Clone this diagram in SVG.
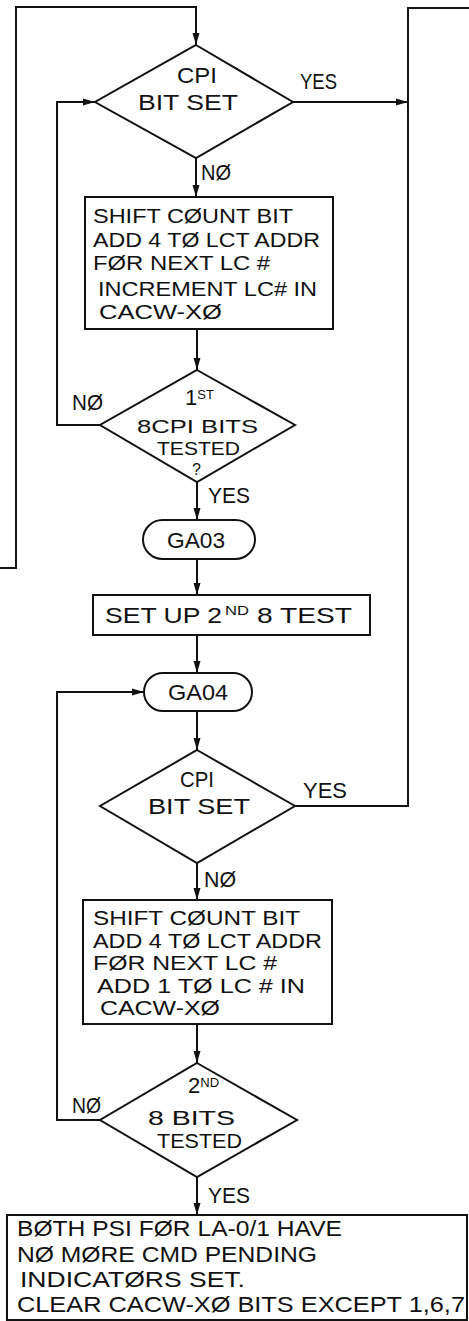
<svg xmlns="http://www.w3.org/2000/svg" width="469" height="1321" viewBox="0 0 469 1321">
<defs>
<marker id="arr" markerUnits="userSpaceOnUse" markerWidth="12" markerHeight="8" refX="12" refY="4" orient="auto">
<path d="M0,0.5 L12,4 L0,7.5 z" fill="#111"/>
</marker>
<style>
.ln{fill:none;stroke:#111;stroke-width:2}
.shp{fill:#fff;stroke:#111;stroke-width:2}
text{font-family:"Liberation Sans",Arial,sans-serif;font-size:22px;fill:#111}
.m{font-size:20px}
.s{font-size:19px}
.sup{font-size:13px}
</style>
</defs>
<rect width="469" height="1321" fill="#fff"/>
<g id="connectors">
<path class="ln" d="M0,568 H16 V7 H196 V45" marker-end="url(#arr)"/>
<path class="ln" d="M293,102 H408" marker-end="url(#arr)"/>
<path class="ln" d="M295,806 H408 V8 H469"/>
<path class="ln" d="M196,158 V197" marker-end="url(#arr)"/>
<path class="ln" d="M197,329 V370" marker-end="url(#arr)"/>
<path class="ln" d="M100,425 H57 V102 H95" marker-end="url(#arr)"/>
<path class="ln" d="M197,482 V520" marker-end="url(#arr)"/>
<path class="ln" d="M197,559 V595" marker-end="url(#arr)"/>
<path class="ln" d="M197,635 V673" marker-end="url(#arr)"/>
<path class="ln" d="M197,711 V750" marker-end="url(#arr)"/>
<path class="ln" d="M197,863 V900" marker-end="url(#arr)"/>
<path class="ln" d="M197,1024 V1063" marker-end="url(#arr)"/>
<path class="ln" d="M100,1120 H57 V692 H144" marker-end="url(#arr)"/>
<path class="ln" d="M197,1177 V1215" marker-end="url(#arr)"/>
<text x="300" y="89" textLength="37" lengthAdjust="spacingAndGlyphs">YES</text>
<text x="201" y="180" textLength="30" lengthAdjust="spacingAndGlyphs">NØ</text>
<text x="72" y="410" textLength="31" lengthAdjust="spacingAndGlyphs">NØ</text>
<text x="208" y="503" textLength="42" lengthAdjust="spacingAndGlyphs">YES</text>
<text x="303" y="798" textLength="44" lengthAdjust="spacingAndGlyphs">YES</text>
<text x="204" y="887" textLength="32" lengthAdjust="spacingAndGlyphs">NØ</text>
<text x="72" y="1113" textLength="29" lengthAdjust="spacingAndGlyphs">NØ</text>
<text x="208" y="1203" textLength="42" lengthAdjust="spacingAndGlyphs">YES</text>
</g>
<g id="d1">
<polygon class="shp" points="196,45 293,102 196,158 95,102"/>
<text x="177" y="83" textLength="40" lengthAdjust="spacingAndGlyphs">CPI</text>
<text x="138" y="110" textLength="100" lengthAdjust="spacingAndGlyphs">BIT SET</text>
</g>
<g id="box1">
<rect class="shp" x="85" y="197" width="248" height="132"/>
<text class="m" x="93" y="223" textLength="200" lengthAdjust="spacingAndGlyphs">SHIFT CØUNT BIT</text>
<text class="m" x="93" y="247" textLength="227" lengthAdjust="spacingAndGlyphs">ADD 4 TØ LCT ADDR</text>
<text class="m" x="93" y="270" textLength="177" lengthAdjust="spacingAndGlyphs">FØR NEXT LC #</text>
<text class="m" x="98" y="296" textLength="219" lengthAdjust="spacingAndGlyphs">INCREMENT LC# IN</text>
<text class="m" x="99" y="319" textLength="123" lengthAdjust="spacingAndGlyphs">CACW-XØ</text>
</g>
<g id="d2">
<polygon class="shp" points="197,370 295,425 197,482 100,425"/>
<text x="185" y="405">1<tspan class="sup" dy="-6">ST</tspan></text>
<text class="s" x="137" y="433" textLength="121" lengthAdjust="spacingAndGlyphs">8CPI BITS</text>
<text class="s" x="157" y="455" textLength="83" lengthAdjust="spacingAndGlyphs">TESTED</text>
<text x="192" y="475" style="font-size:16px">?</text>
</g>
<g id="ga03">
<rect class="shp" x="143" y="520" width="112" height="39" rx="19.5"/>
<text x="167" y="548" textLength="58" lengthAdjust="spacingAndGlyphs">GA03</text>
</g>
<g id="box2">
<rect class="shp" x="93" y="595" width="277" height="40"/>
<text x="105" y="623" textLength="117" lengthAdjust="spacingAndGlyphs">SET UP 2</text>
<text class="sup" x="225" y="615" textLength="24" lengthAdjust="spacingAndGlyphs">ND</text>
<text x="257" y="623" textLength="95" lengthAdjust="spacingAndGlyphs">8 TEST</text>
</g>
<g id="ga04">
<rect class="shp" x="144" y="673" width="108" height="38" rx="19"/>
<text x="168" y="700" textLength="60" lengthAdjust="spacingAndGlyphs">GA04</text>
</g>
<g id="d3">
<polygon class="shp" points="197,750 295,806 197,863 100,806"/>
<text x="180" y="787" textLength="34" lengthAdjust="spacingAndGlyphs">CPI</text>
<text x="148" y="814" textLength="102" lengthAdjust="spacingAndGlyphs">BIT SET</text>
</g>
<g id="box3">
<rect class="shp" x="83" y="900" width="249" height="124"/>
<text class="m" x="93" y="925" textLength="207" lengthAdjust="spacingAndGlyphs">SHIFT CØUNT BIT</text>
<text class="m" x="93" y="948" textLength="229" lengthAdjust="spacingAndGlyphs">ADD 4 TØ LCT ADDR</text>
<text class="m" x="93" y="970" textLength="184" lengthAdjust="spacingAndGlyphs">FØR NEXT LC #</text>
<text class="m" x="97" y="993" textLength="208" lengthAdjust="spacingAndGlyphs">ADD 1 TØ LC # IN</text>
<text class="m" x="100" y="1015" textLength="120" lengthAdjust="spacingAndGlyphs">CACW-XØ</text>
</g>
<g id="d4">
<polygon class="shp" points="197,1063 297,1120 197,1177 100,1120"/>
<text x="188" y="1093">2<tspan class="sup" dy="-6">ND</tspan></text>
<text class="m" x="148" y="1125" textLength="87" lengthAdjust="spacingAndGlyphs">8 BITS</text>
<text class="m" x="157" y="1148" textLength="85" lengthAdjust="spacingAndGlyphs">TESTED</text>
</g>
<g id="box4">
<rect class="shp" x="7" y="1215" width="460" height="105"/>
<text x="17" y="1236" textLength="325" lengthAdjust="spacingAndGlyphs">BØTH PSI FØR LA-0/1 HAVE</text>
<text x="17" y="1262" textLength="300" lengthAdjust="spacingAndGlyphs">NØ MØRE CMD PENDING</text>
<text x="20" y="1287" textLength="225" lengthAdjust="spacingAndGlyphs">INDICATØRS SET.</text>
<text x="17" y="1312" textLength="448" lengthAdjust="spacingAndGlyphs">CLEAR CACW-XØ BITS EXCEPT 1,6,7</text>
</g>
</svg>
